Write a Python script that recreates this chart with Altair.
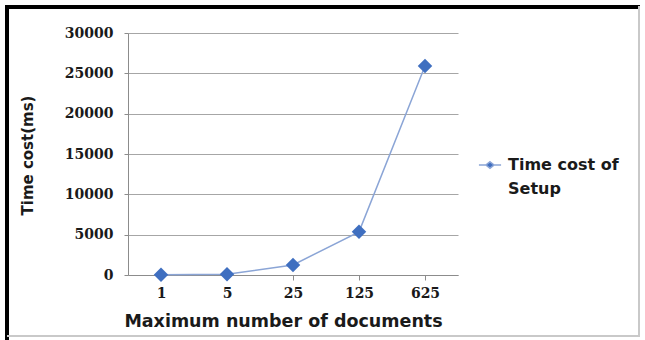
import altair as alt
import pandas as pd

categories = ["1", "5", "25", "125", "625"]
values = [20, 90, 1250, 5350, 25900]
series = ["Time cost of Setup"] * 5
y_ticks = [0, 5000, 10000, 15000, 20000, 25000, 30000]

df = pd.DataFrame({"docs": categories, "time": values, "series": series})

W, H = 330, 242
sans = "DejaVu Sans"
serif = "DejaVu Serif"

diamond_path = "M-1.7,0H-0.5M0.5,0H1.7M0,-0.5L0.62,0L0,0.5L-0.62,0Z"

x_enc = alt.X("docs:N", sort=categories,
              scale=alt.Scale(paddingInner=0, paddingOuter=0),
              axis=alt.Axis(title="Maximum number of documents", labelAngle=0,
                            bandPosition=0, ticks=True, tickSize=5, tickColor="#8c8c8c",
                            domainColor="#8c8c8c", labelFont=serif, labelFontWeight="bold",
                            labelFontSize=14, labelColor="#1a1a1a", labelPadding=6,
                            titleFont=sans, titleFontWeight="bold", titleFontSize=17.5,
                            titleColor="#1a1a1a", titleX=155, titleY=37, grid=False))
y_enc = alt.Y("time:Q", scale=alt.Scale(domain=[0, 30000]),
              axis=alt.Axis(title="Time cost(ms)", values=y_ticks, format="d",
                            tickSize=4, tickColor="#8c8c8c", domainColor="#8c8c8c",
                            gridColor="#a6a6a6", labelFont=serif, labelFontWeight="bold",
                            labelFontSize=14, labelColor="#1a1a1a", labelPadding=11,
                            titleFont=sans, titleFontWeight="bold", titleFontSize=15,
                            titleColor="#1a1a1a", titleX=-93, titleY=122))

line = alt.Chart(df).mark_line(color="#8ba5d6", strokeWidth=1.5).encode(x=x_enc, y=y_enc)
pts = alt.Chart(df).mark_point(shape="diamond", filled=True, size=210, opacity=1).encode(
    x=x_enc, y=y_enc,
    color=alt.Color("series:N", scale=alt.Scale(range=["#3f6fc0"]),
                    legend=alt.Legend(title=None, orient="none", legendX=354, legendY=124,
                                      symbolType=diamond_path, symbolSize=170,
                                      symbolStrokeColor="#8ba5d6", symbolStrokeWidth=1.5,
                                      labelFont=sans, labelFontWeight="bold", labelFontSize=16,
                                      labelColor="#1a1a1a", labelExpr="['Time cost of', 'Setup']",
                                      labelLimit=300, labelOffset=10)))

# decorative frame around the whole picture
frame_left = alt.Chart(df).mark_rule(color="black", strokeWidth=4).encode(
    x=alt.value(-121), y=alt.value(-27), y2=alt.value(310))
frame_top = alt.Chart(df).mark_rule(color="black", strokeWidth=4).encode(
    x=alt.value(-123), x2=alt.value(512), y=alt.value(-26))
frame_right = alt.Chart(df).mark_rule(color="#c8c8c8", strokeWidth=1.5).encode(
    x=alt.value(511), y=alt.value(-27), y2=alt.value(304))
frame_bottom = alt.Chart(df).mark_rule(color="#c8c8c8", strokeWidth=1.5).encode(
    x=alt.value(-121), x2=alt.value(512), y=alt.value(303))

chart = alt.layer(line, pts, frame_left, frame_top, frame_right, frame_bottom).properties(
    width=W, height=H,
    autosize=alt.AutoSizeParams(type="none"),
    padding={"left": 128, "top": 33, "right": 187, "bottom": 65},
    background="white",
).configure(view=alt.ViewConfig(stroke=None),
            style={"guide-label": {"lineHeight": 24}})

chart.save("out.html", embed_options={"renderer": "svg", "actions": False})
